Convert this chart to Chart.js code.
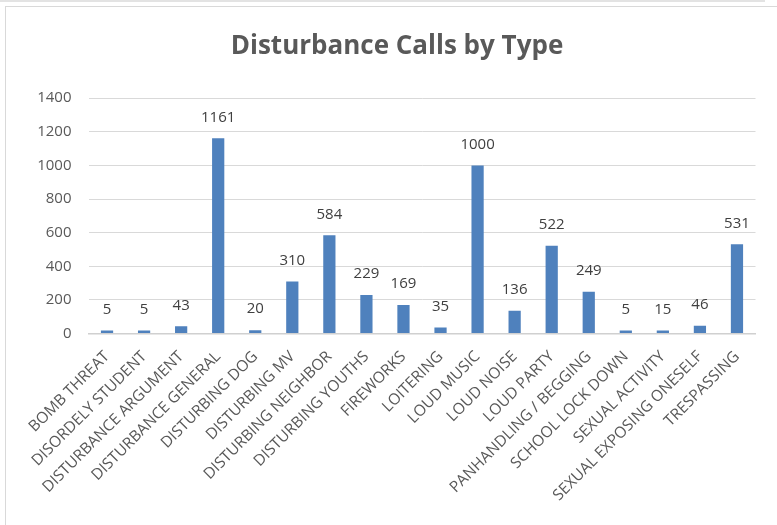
<!DOCTYPE html>
<html>
<head>
<meta charset="utf-8">
<script src="https://cdn.jsdelivr.net/npm/chart.js@4"></script>
<style>
  html, body { margin: 0; padding: 0; background: #fff; }
  #wrap { position: relative; width: 777px; height: 525px; overflow: hidden; }
  #strip { position: absolute; left: 0; top: 0; width: 765px; height: 2px; background: #e3e3e3; }
  #frame { position: absolute; left: 5px; top: 6px; width: 780px; height: 530px; border-top: 1px solid #d9d9d9; border-left: 1px solid #d9d9d9; }
  canvas { position: absolute; left: 0; top: 0; }
</style>
</head>
<body>
<div id="wrap">
  <div id="strip"></div>
  <div id="frame"></div>
  <canvas id="chart" width="777" height="525"></canvas>
</div>
<script>
// data
const categories = [
  'BOMB THREAT', 'DISORDELY STUDENT', 'DISTURBANCE ARGUMENT', 'DISTURBANCE GENERAL',
  'DISTURBING DOG', 'DISTURBING MV', 'DISTURBING NEIGHBOR', 'DISTURBING YOUTHS',
  'FIREWORKS', 'LOITERING', 'LOUD MUSIC', 'LOUD NOISE', 'LOUD PARTY',
  'PANHANDLING / BEGGING', 'SCHOOL LOCK DOWN', 'SEXUAL ACTIVITY',
  'SEXUAL EXPOSING ONESELF', 'TRESPASSING'
];
const calls = [5, 5, 43, 1161, 20, 310, 584, 229, 169, 35, 1000, 136, 522, 249, 5, 15, 46, 531];
const yTicks = [0, 200, 400, 600, 800, 1000, 1200, 1400];

const fontFamily = '"Open Sans", "Liberation Sans", sans-serif';

// value labels above each bar
const valueLabels = {
  id: 'valueLabels',
  afterDatasetsDraw(chart) {
    const ctx = chart.ctx;
    const meta = chart.getDatasetMeta(0);
    ctx.save();
    ctx.font = '15px ' + fontFamily;
    ctx.fillStyle = '#404040';
    ctx.textAlign = 'center';
    ctx.textBaseline = 'middle';
    meta.data.forEach((bar, i) => {
      ctx.fillText(String(calls[i]), bar.x, bar.y - 21);
    });
    ctx.restore();
  }
};

new Chart(document.getElementById('chart'), {
  type: 'bar',
  data: {
    labels: categories,
    datasets: [{
      data: calls,
      backgroundColor: '#4f81bd',
      borderWidth: 0,
      barPercentage: 0.33,
      categoryPercentage: 1,
      minBarLength: 3
    }]
  },
  options: {
    responsive: false,
    animation: false,
    layout: { padding: { left: 17, right: 0, top: 0, bottom: 0 } },
    plugins: {
      legend: { display: false },
      tooltip: { enabled: false },
      title: {
        display: true,
        text: 'Disturbance Calls by Type',
        color: '#595959',
        font: { family: fontFamily, size: 26, weight: 'bold', lineHeight: 1.2 },
        padding: { top: 31, bottom: 36 }
      }
    },
    scales: {
      x: {
        grid: { display: false, drawTicks: false },
        border: { display: true, color: '#d0d0d0', width: 1.5 },
        ticks: {
          color: '#595959',
          font: { family: fontFamily, size: 15.5 },
          minRotation: 45,
          maxRotation: 45,
          autoSkip: false,
          padding: 14
        },
        afterFit(scale) { scale.height = 191.5; }
      },
      y: {
        min: 0,
        max: 1400,
        afterBuildTicks(scale) { scale.ticks = yTicks.map(v => ({ value: v })); },
        grid: { color: '#d9d9d9', lineWidth: 1, drawTicks: false },
        border: { display: false },
        ticks: {
          color: '#595959',
          font: { family: fontFamily, size: 15 },
          padding: 17,
          callback: v => String(v)
        },
        afterFit(scale) { scale.width = 71.5; }
      },
      // empty right axis, only keeps the plot off the right edge
      yRight: {
        position: 'right',
        min: 0,
        max: 1400,
        grid: { display: false, drawTicks: false },
        border: { display: false },
        ticks: { display: false },
        afterFit(scale) { scale.width = 21.5; }
      }
    }
  },
  plugins: [valueLabels]
});
</script>
</body>
</html>
